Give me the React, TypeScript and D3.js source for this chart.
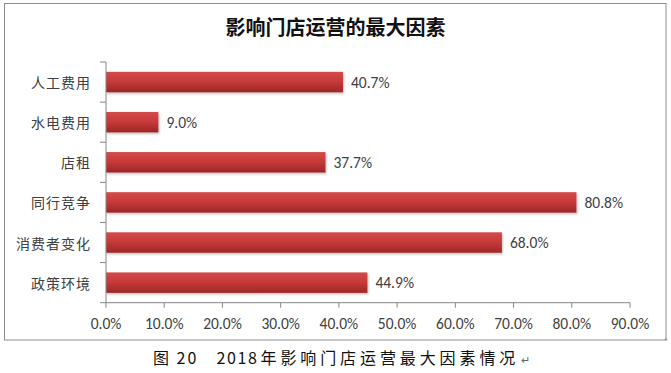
import React from "react";
import * as d3 from "d3";

const categories = ["人工费用", "水电费用", "店租", "同行竞争", "消费者变化", "政策环境"];
const values = [40.7, 9.0, 37.7, 80.8, 68.0, 44.9];
const xTicks = [0, 10, 20, 30, 40, 50, 60, 70, 80, 90];
const title = "影响门店运营的最大因素";
const captionParts = ["图", "20", "2018", "年影响门店运营最大因素情况"];

const W = 671;
const H = 373;
const plot = { left: 106, right: 630, top: 62, bottom: 302.7 };

export default function App() {
  const x = d3.scaleLinear().domain([0, 90]).range([plot.left, plot.right]);
  const y = d3
    .scaleBand<string>()
    .domain(categories)
    .range([plot.top, plot.bottom])
    .paddingInner(0.49)
    .paddingOuter(0.245);
  const band = (plot.bottom - plot.top) / categories.length;
  const sans = "'Noto Sans CJK SC', 'Noto Sans', sans-serif";
  const num = "Carlito, 'Liberation Sans', 'Open Sans', sans-serif";
  return (
    <svg
      width={W}
      height={H}
      viewBox={`0 0 ${W} ${H}`}
      style={{ position: "absolute", left: 0, top: 0, background: "#fff" }}
    >
      <defs>
        <linearGradient id="barGrad" x1="0" y1="0" x2="0" y2="1">
          <stop offset="0%" stopColor="#d44a4a" />
          <stop offset="45%" stopColor="#c93b3b" />
          <stop offset="100%" stopColor="#9c2626" />
        </linearGradient>
        <filter id="sh" x="-5%" y="-20%" width="110%" height="160%">
          <feDropShadow dx="1" dy="1.5" stdDeviation="1" floodColor="#000" floodOpacity="0.25" />
        </filter>
      </defs>
      <rect x={4.5} y={3.5} width={661.5} height={336.5} fill="#fff" stroke="#8c8c8c" strokeWidth={1} />
      <text
        x={335.5}
        y={35}
        textAnchor="middle"
        fontFamily={sans}
        fontWeight="bold"
        fontSize={20}
        fill="#111"
      >
        {title}
      </text>
      {categories.map((c, i) => (
        <g key={c}>
          <rect
            x={x(0)}
            y={y(c)!}
            width={x(values[i]) - x(0)}
            height={y.bandwidth()}
            fill="url(#barGrad)"
            filter="url(#sh)"
          />
          <text
            x={x(values[i]) + 8}
            y={y(c)! + y.bandwidth() / 2}
            dominantBaseline="central"
            fontFamily={num}
            fontSize={15.5}
            fill="#404040"
          >
            {values[i].toFixed(1)}%
          </text>
          <text
            x={91}
            y={y(c)! + y.bandwidth() / 2}
            dominantBaseline="central"
            textAnchor="end"
            fontFamily={sans}
            fontSize={14}
            letterSpacing={1}
            fill="#404040"
          >
            {c}
          </text>
        </g>
      ))}
      <line x1={plot.left} x2={plot.left} y1={plot.top} y2={plot.bottom} stroke="#868686" />
      {d3.range(categories.length + 1).map((k) => (
        <line
          key={k}
          x1={plot.left - 6}
          x2={plot.left}
          y1={plot.top + k * band}
          y2={plot.top + k * band}
          stroke="#868686"
        />
      ))}
      <line x1={plot.left} x2={plot.right} y1={plot.bottom} y2={plot.bottom} stroke="#868686" />
      {xTicks.map((t) => (
        <g key={t}>
          <line x1={x(t)} x2={x(t)} y1={plot.bottom} y2={plot.bottom + 5} stroke="#868686" />
          <text
            x={x(t)}
            y={323}
            textAnchor="middle"
            dominantBaseline="central"
            fontFamily={num}
            fontSize={15.5}
            fill="#404040"
          >
            {t.toFixed(1)}%
          </text>
        </g>
      ))}
      <text x={664} y={342} fontSize={7} fill="#888" fontFamily={sans}>
        +
      </text>
      <text y={364} fontFamily={sans} fontSize={16} fill="#111">
        <tspan x={153}>{captionParts[0]}</tspan>
        <tspan x={176.5} letterSpacing={2}>{captionParts[1]}</tspan>
        <tspan x={216.5} letterSpacing={1.6}>{captionParts[2]}</tspan>
        <tspan x={260.5} letterSpacing={3.9}>{captionParts[3]}</tspan>
      </text>
      <text x={521} y={364} fontFamily={sans} fontSize={11} fill="#666">
        ↵
      </text>
    </svg>
  );
}
